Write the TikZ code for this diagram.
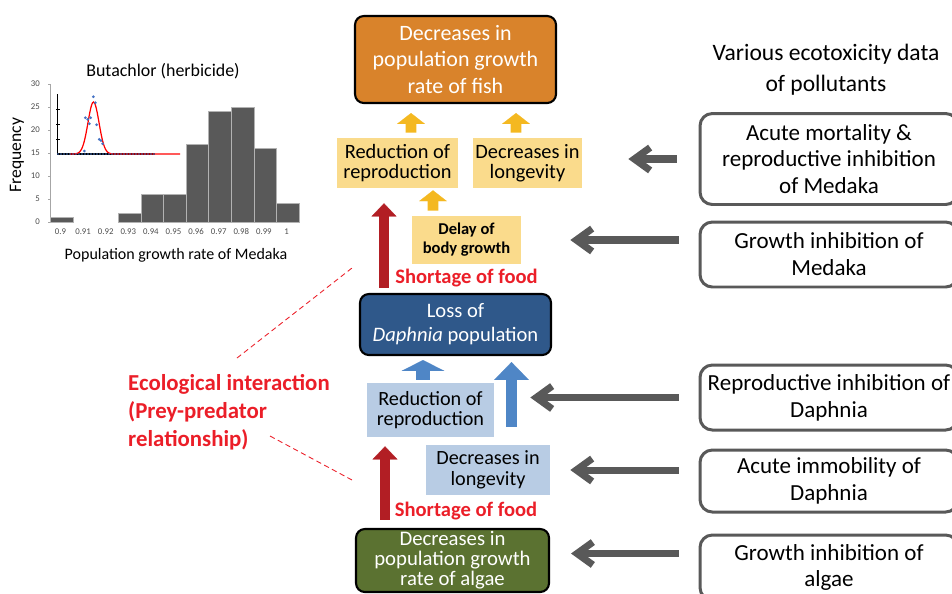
\documentclass[tikz,border=0pt]{standalone}
\usepackage{fontspec}
\setmainfont{Carlito}
\usetikzlibrary{arrows.meta, calc}

\definecolor{fishorange}{RGB}{217,131,43}
\definecolor{fishlight}{RGB}{250,219,140}
\definecolor{yellowarr}{RGB}{244,184,32}
\definecolor{daphblue}{RGB}{47,88,138}
\definecolor{daphlight}{RGB}{184,204,228}
\definecolor{bluearr}{RGB}{79,134,198}
\definecolor{algaegreen}{RGB}{91,114,49}
\definecolor{foodred}{RGB}{178,30,36}
\definecolor{ecored}{RGB}{235,30,40}
\definecolor{darkgray}{RGB}{89,89,89}
\definecolor{dotblue}{RGB}{68,114,196}

\tikzstyle{garrow} = [line width=4pt, draw=darkgray, -{Straight Barb[length=9pt, width=13pt]}]
\tikzstyle{yarrow} = [line width=6.2pt, draw=yellowarr, -{Triangle[length=6.2pt, width=15.9pt, line width=0.1pt]}]
\tikzstyle{rarrow} = [line width=5.4pt, draw=foodred, -{Triangle[length=7.4pt, width=14.2pt, line width=0.1pt]}]

\begin{document}
\begin{tikzpicture}[x=0.02cm, y=-0.02cm,
    popbox/.style={rectangle, rounded corners=5pt, draw=black, line width=1.2pt, text=white, align=center, inner sep=0pt},
    fishsub/.style={rectangle, fill=fishlight, align=center, inner sep=0pt, minimum height=1cm, font=\fontsize{11.6}{11.4}\selectfont},
    daphsub/.style={rectangle, fill=daphlight, align=center, inner sep=0pt, font=\fontsize{11.5}{11.8}\selectfont},
    databox/.style={rectangle, rounded corners=7pt, draw=darkgray, line width=1.7pt, fill=white, minimum width=5.16cm, align=center, inner sep=0pt, font=\fontsize{13.1}{15.3}\selectfont},
    food/.style={font=\fontsize{11.7}{12}\selectfont\bfseries, text=ecored},
    histbar/.style={fill=darkgray, draw=gray!60, line width=0.3pt},
    ticklab/.style={font=\fontsize{5}{5.5}\selectfont, text=black!70},
]
\useasboundingbox (0,0) rectangle (952,593);
\clip (0,0) rectangle (952,593);

% Histogram of the population growth rate
\node[font=\fontsize{10.2}{11}\selectfont] (htitle) at (163,71) {Butachlor (herbicide)};
\node[font=\fontsize{10}{11}\selectfont, rotate=90] (hylab) at (17,155) {Frequency};
\node[font=\fontsize{9.1}{10}\selectfont] (hxlab) at (176,255) {Population growth rate of Medaka};
\draw[gray!70, line width=0.3pt] (50,84) -- (50,222);
\foreach \v in {0,5,...,30} {
  \draw[gray!70, line width=0.3pt] (48,222-4.6*\v) -- (50,222-4.6*\v);
  \node[ticklab, anchor=east] at (46,222-4.6*\v) {\v};
}
\foreach \h [count=\i from 0] in {1,0,0,2,6,6,17,24,25,16,4} {
  \ifnum\h>0
    \path[histbar] (50.7+22.57*\i,222) rectangle (50.7+22.57*\i+22.57,222-4.6*\h);
  \fi
}
\foreach \t [count=\i from 0] in {0.9,0.91,0.92,0.93,0.94,0.95,0.96,0.97,0.98,0.99,1}
  \node[ticklab] at (60.5+22.6*\i,232) {\t};

% Inset: fitted curve
\draw[black, line width=0.6pt] (57.7,94) -- (57.7,154) -- (155,154);
\foreach \t in {109.7,124.3,139.3}
  \draw[black, line width=0.5pt] (56,\t) -- (60,\t);
\draw[red, line width=0.7pt] plot[domain=70:118, samples=50] (\x,{154-52*exp(-((\x-93.5)^2)/60.5)}) -- (180,154);
\foreach \x in {58,61,...,155}
  \fill[dotblue] (\x,154) circle (0.5pt);
\foreach \p in {(93.3,96.7),(95.3,102.7),(85.3,117.7),(87.7,119.3),(90.7,117.7),(89.3,123.7),(96.7,124.7),(99.3,139.3),(101,140.7),(102.7,143.7),(84.3,151)}
  \fill[dotblue] \p circle (0.85pt);

% Medaka level
\node[popbox, fill=fishorange, minimum width=4.02cm, minimum height=1.74cm, font=\fontsize{12.5}{15.3}\selectfont] (fish) at (455.5,59.5) {Decreases in\\population growth\\rate of fish};
\node[fishsub, minimum width=2.42cm] (repF) at (397.5,163) {Reduction of\\reproduction};
\node[fishsub, minimum width=2.18cm] (lonF) at (527.5,163) {Decreases in\\longevity};
\node[fishsub, minimum width=2.18cm, minimum height=0.96cm, font=\fontsize{9.4}{10.8}\selectfont\bfseries] (delay) at (466.5,240) {Delay of\\body growth};

% Daphnia level
\node[popbox, fill=daphblue, minimum width=3.82cm, minimum height=1.22cm, font=\fontsize{11.7}{13.6}\selectfont] (daph) at (455.5,324.5) {Loss of\\\textit{Daphnia} population};
\node[daphsub, minimum width=2.54cm, minimum height=1.08cm] (repD) at (430.5,410) {Reduction of\\reproduction};
\node[daphsub, minimum width=2.48cm, minimum height=1cm] (lonD) at (488,470) {Decreases in\\longevity};

% Algae level
\node[popbox, fill=algaegreen, minimum width=3.86cm, minimum height=1.26cm, font=\fontsize{11.8}{11.4}\selectfont] (algae) at (452.5,560.5) {Decreases in\\population growth\\rate of algae};

% Shortage of food
\node[food] (foodA) at (466.5,278) {Shortage of food};
\node[food] (foodB) at (466,511) {Shortage of food};

% Block arrows
\draw[yarrow, shorten <=0.1cm, shorten >=0.18cm] ($(repF.north)+(13.5,0)$) -- ($(fish.south)+(-44.5,0)$);
\draw[yarrow, shorten <=0.1cm, shorten >=0.18cm] ($(lonF.north)+(-11.5,0)$) -- ($(fish.south)+(60.5,0)$);
\draw[yarrow, shorten <=0.1cm, shorten >=0.04cm] ($(delay.north)+(-33.5,0)$) -- ($(repF.south)+(35.5,0)$);
\draw[rarrow, shorten <=0.1cm, shorten >=0.3cm] ($(daph.north)+(-71.5,0)$) -- ($(repF.south)+(-13.5,0)$);
\draw[rarrow, shorten <=0.16cm, shorten >=0.18cm] ($(algae.north)+(-67.5,0)$) -- ($(repD.south)+(-45.5,0)$);
\draw[line width=7.9pt, draw=bluearr, -{Triangle[length=6.2pt, width=24.4pt, line width=0.1pt]}, shorten <=0.06cm, shorten >=0.08cm] ($(repD.north)+(-7.5,0)$) -- ($(daph.south)+(-32.5,0)$);
\draw[line width=6.2pt, draw=bluearr, -{Triangle[length=10.2pt, width=19.8pt, line width=0.1pt]}, shorten <=0.36cm, shorten >=0.12cm] ($(lonD.north)+(23.5,0)$) -- ($(daph.south)+(56,0)$);

% Ecotoxicity data
\node[align=center, font=\fontsize{13.4}{17.5}\selectfont] (head) at (826,70) {Various ecotoxicity data\\of pollutants};
\node[databox, minimum height=1.82cm] (acute) at (829,159) {Acute mortality \&\\reproductive inhibition\\of Medaka};
\node[databox, minimum height=1.3cm] (gmed) at (829,254.5) {Growth inhibition of\\Medaka};
\node[databox, minimum height=1.3cm] (rdaph) at (829,397.5) {Reproductive inhibition of\\Daphnia};
\node[databox, minimum height=1.24cm] (immD) at (829,481) {Acute immobility of\\Daphnia};
\node[databox, minimum height=1.3cm] (galg) at (829,567.5) {Growth inhibition of\\algae};

\draw[garrow, shorten <=0.44cm, shorten >=0.92cm] (acute.west) -- (acute.west -| lonF.east);
\draw[garrow, shorten <=0.4cm, shorten >=0.98cm] (gmed.west |- delay.east) -- (delay.east);
\draw[garrow, shorten <=0.4cm, shorten >=0.72cm] (rdaph.west) -- (rdaph.west -| repD.east);
\draw[garrow, shorten <=0.4cm, shorten >=0.4cm] (immD.west |- lonD.east) -- (lonD.east);
\draw[garrow, shorten <=0.4cm, shorten >=0.42cm] ($(galg.west |- algae.east)+(0,-7)$) -- ($(algae.east)+(0,-7)$);

% Ecological interaction
\node[anchor=west, align=left, font=\fontsize{13}{15.8}\selectfont\bfseries, text=ecored] (eco) at (122,412) {Ecological interaction\\(Prey-predator\\relationship)};
\coordinate (ecoTopA) at (237,358);
\coordinate (ecoTopB) at (352,268);
\coordinate (ecoBotA) at (270,436);
\coordinate (ecoBotB) at (352,480);
\draw[ecored, densely dashed, line width=0.5pt] (ecoTopA) -- (ecoTopB);
\draw[ecored, densely dashed, line width=0.5pt] (ecoBotA) -- (ecoBotB);

\end{tikzpicture}
\end{document}
